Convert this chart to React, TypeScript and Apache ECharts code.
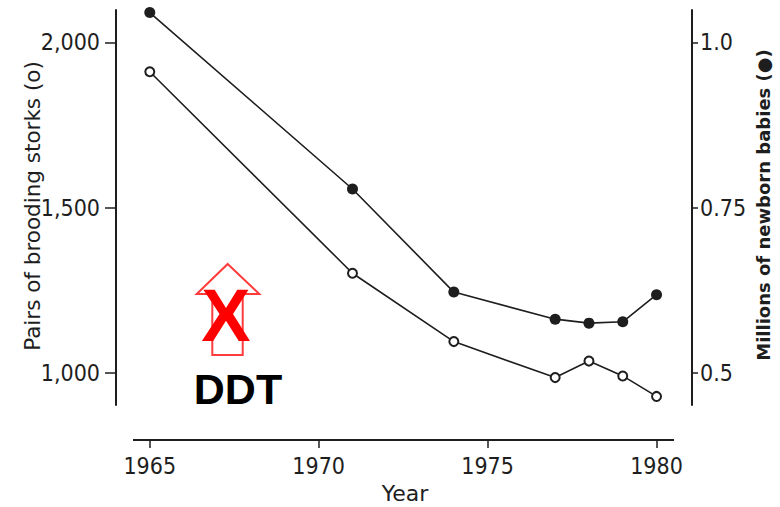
import React, { useEffect, useRef } from "react";
import * as echarts from "echarts";

const years = [1965, 1971, 1974, 1977, 1978, 1979, 1980];
const storkPairs = [1911, 1301, 1094, 985, 1035, 990, 928];
const newbornMillions = [1.045, 0.778, 0.622, 0.581, 0.575, 0.577, 0.618];
const xTicks = [1965, 1970, 1975, 1980];
const leftTicks = [1000, 1500, 2000];
const rightTicks = [0.5, 0.75, 1.0];

const leftTitle = "Pairs of brooding storks (o)";
const rightTitle = "Millions of newborn babies (\u25CF)";
const xTitle = "Year";
const noteText = "DDT";

const INK = "#1e1e1e";
const FONT = "'Liberation Sans Narrow', 'DejaVu Sans Condensed', sans-serif";

export default function App() {
  const ref = useRef<HTMLDivElement>(null);
  useEffect(() => {
    if (!ref.current) return;
    const chart = echarts.init(ref.current, undefined, { renderer: "svg" });
    const labelStyle = { color: INK, fontFamily: FONT, fontSize: 23 };
    chart.setOption({
      animation: false,
      backgroundColor: "#ffffff",
      grid: { left: 116, right: 88, top: 10, bottom: 102, containLabel: false },
      xAxis: {
        type: "value",
        min: 1964,
        max: 1981.05,
        offset: 35,
        splitLine: { show: false },
        axisLine: { show: false },
        axisTick: {
          show: true,
          customValues: xTicks,
          length: 8,
          lineStyle: { color: INK, width: 1.5 },
        },
        axisLabel: {
          customValues: xTicks,
          margin: 14,
          ...labelStyle,
          formatter: (v: number) => String(v),
        },
      },
      yAxis: [
        {
          type: "value",
          position: "left",
          min: 902,
          max: 2098,
          splitLine: { show: false },
          axisLine: { show: true, lineStyle: { color: INK, width: 2 } },
          axisTick: {
            show: true,
            customValues: leftTicks,
            length: 11,
            lineStyle: { color: INK, width: 1.5 },
          },
          axisLabel: {
            customValues: leftTicks,
            margin: 16,
            ...labelStyle,
            formatter: (v: number) => v.toLocaleString("en-US"),
          },
        },
        {
          type: "value",
          position: "right",
          min: 0.4511,
          max: 1.0489,
          splitLine: { show: false },
          axisLine: { show: true, lineStyle: { color: INK, width: 2 } },
          axisTick: {
            show: true,
            customValues: rightTicks,
            length: 6,
            lineStyle: { color: INK, width: 1.5 },
          },
          axisLabel: {
            customValues: rightTicks,
            margin: 8,
            ...labelStyle,
            formatter: (v: number) => (v === 1 ? "1.0" : String(v)),
          },
        },
      ],
      series: [
        {
          name: "Newborn babies",
          type: "line",
          yAxisIndex: 1,
          data: years.map((y, i) => [y, newbornMillions[i]]),
          symbol: "circle",
          symbolSize: 11,
          lineStyle: { color: INK, width: 1.6 },
          itemStyle: { color: INK, borderWidth: 0 },
          emphasis: { disabled: true },
        },
        {
          name: "Brooding storks",
          type: "line",
          yAxisIndex: 0,
          data: years.map((y, i) => [y, storkPairs[i]]),
          symbol: "circle",
          symbolSize: 9,
          lineStyle: { color: INK, width: 1.6 },
          itemStyle: { color: "#ffffff", borderColor: INK, borderWidth: 2 },
          emphasis: { disabled: true },
        },
      ],
      graphic: [
        {
          type: "line",
          shape: { x1: 133, y1: 440, x2: 674, y2: 440 },
          style: { stroke: INK, lineWidth: 2 },
        },
        {
          type: "text",
          x: 32,
          y: 206,
          rotation: Math.PI / 2,
          style: {
            text: leftTitle,
            fill: INK,
            font: `21.5px 'DejaVu Sans', sans-serif`,
            align: "center",
            verticalAlign: "middle",
          },
        },
        {
          type: "text",
          x: 763,
          y: 205,
          rotation: Math.PI / 2,
          style: {
            text: rightTitle,
            fill: INK,
            font: `bold 18px 'DejaVu Sans', sans-serif`,
            align: "center",
            verticalAlign: "middle",
          },
        },
        {
          type: "text",
          x: 405,
          y: 493,
          style: {
            text: xTitle,
            fill: INK,
            font: `22px 'DejaVu Sans', sans-serif`,
            align: "center",
            verticalAlign: "middle",
          },
        },
        {
          type: "polygon",
          shape: {
            points: [
              [227.7, 264],
              [259.3, 294],
              [242.7, 294],
              [242.7, 355],
              [212.3, 355],
              [212.3, 294],
              [196.7, 294],
            ],
          },
          style: { fill: "none", stroke: "#ff3b3b", lineWidth: 2 },
        },
        {
          type: "text",
          x: 226,
          y: 315,
          style: {
            text: "X",
            fill: "#ff0000",
            font: `bold 74px 'Liberation Sans', Arial, sans-serif`,
            align: "center",
            verticalAlign: "middle",
          },
        },
        {
          type: "text",
          x: 238,
          y: 389,
          style: {
            text: noteText,
            fill: "#000000",
            font: `bold 43px 'Liberation Sans', Arial, sans-serif`,
            align: "center",
            verticalAlign: "middle",
          },
        },
      ],
    });
    return () => chart.dispose();
  }, []);
  return (
    <div
      ref={ref}
      style={{ position: "fixed", left: 0, top: 0, width: 780, height: 507 }}
    />
  );
}
